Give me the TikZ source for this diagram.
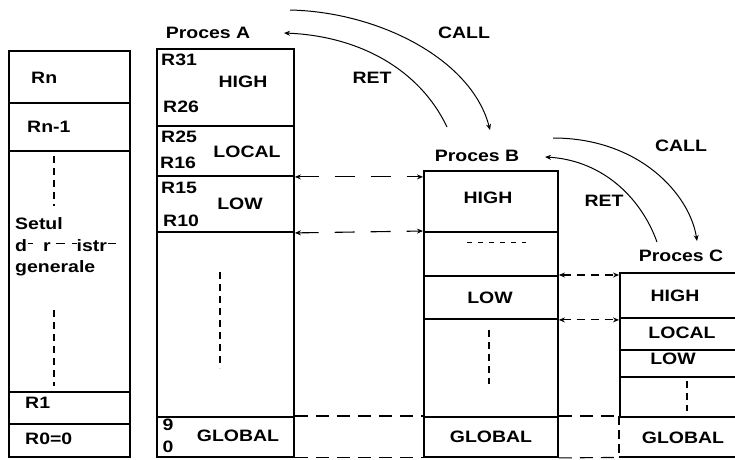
\documentclass[tikz,border=0pt]{standalone}
\usepackage{fontspec}
\setmainfont{Liberation Sans}[FakeStretch=1.18]
\usetikzlibrary{arrows.meta}
\newcommand\hdash[1][5pt]{\raisebox{0.95ex}{\rule{#1}{1pt}}}
\begin{document}
\begin{tikzpicture}[x=1pt,y=-1pt,
  txt/.style={font=\fontsize{16.5}{18}\selectfont\bfseries, inner sep=0pt},
  lt/.style={txt, anchor=west},
  cell/.style={draw, line width=1.9pt, anchor=north west, inner sep=0pt},
  curve/.style={line width=1pt, -{Stealth[length=6pt,width=5pt]}},
  link/.style={line width=1.1pt, dash pattern=on 20pt off 16pt,
    {Stealth[length=6pt,width=5pt]}-{Stealth[length=6pt,width=5pt]}},
  shortlink/.style={line width=1.1pt, dash pattern=on 8pt off 6pt,
    {Stealth[length=6pt,width=5pt]}-{Stealth[length=6pt,width=5pt]}},
  gap/.style={line width=1.1pt, dash pattern=on 13pt off 8pt},
  dots/.style={line width=1.1pt, dash pattern=on 7pt off 5pt}
]
\useasboundingbox (0,0) rectangle (735,459);
\fill[white] (0,0) rectangle (735,459);

% general register file
\node[cell, minimum width=121pt, minimum height=52pt]  (L1) at (8,50)  {};
\node[cell, minimum width=121pt, minimum height=48pt]  (L2) at (8,102) {};
\node[cell, minimum width=121pt, minimum height=241pt] (L3) at (8,150) {};
\node[cell, minimum width=121pt, minimum height=32pt]  (L4) at (8,391) {};
\node[cell, minimum width=121pt, minimum height=33pt]  (L5) at (8,423) {};
\node[lt] (Rn)  at (31,78)  {Rn};
\node[lt] (Rn1) at (27,127) {Rn-1};
\node[lt] (set1) at (15,224) {Setul};
\node[lt] (set2) at (15,246) {d\hspace{1pt}\hdash\hspace{10pt}r\hspace{5pt}\hdash[9pt]\hspace{7pt}\hdash istr\hspace{1pt}\hdash[8pt]};
\node[lt] (set3) at (15,268) {generale};
\node[lt] (R1)  at (25,403) {R1};
\node[lt] (R0)  at (25,439) {R0=0};
\draw[dots] (54,156) -- (54,206);
\draw[dots] (54,310) -- (54,386);

% process A window
\node[txt] (tA) at (208,33) {Proces A};
\node[cell, minimum width=137pt, minimum height=77pt]  (A1) at (156,48)  {};
\node[cell, minimum width=137pt, minimum height=50pt]  (A2) at (156,125) {};
\node[cell, minimum width=137pt, minimum height=56pt]  (A3) at (156,175) {};
\node[cell, minimum width=137pt, minimum height=185pt] (A4) at (156,231) {};
\node[cell, minimum width=137pt, minimum height=40pt]  (A5) at (156,416) {};
\node[lt] (r31) at (161,60)  {R31};
\node[lt] (r26) at (163,107) {R26};
\node[lt] (r25) at (161,137) {R25};
\node[lt] (r16) at (160,163) {R16};
\node[lt] (r15) at (161,188) {R15};
\node[lt] (r10) at (163,221) {R10};
\node[txt] (hA) at (243,82)  {HIGH};
\node[txt] (cA) at (247,152) {LOCAL};
\node[txt] (wA) at (240,204) {LOW};
\node[txt] (n9) at (168,425) {9};
\node[txt] (n0) at (168,447) {0};
\node[txt] (gA) at (238,436) {GLOBAL};
\draw[dots] (220,272) -- (220,368);

% process B window
\node[txt] (tB) at (477,156) {Proces B};
\node[cell, minimum width=134pt, minimum height=61pt] (B1) at (423,170) {};
\node[cell, minimum width=134pt, minimum height=44pt] (B2) at (423,231) {};
\node[cell, minimum width=134pt, minimum height=43pt] (B3) at (423,275) {};
\node[cell, minimum width=134pt, minimum height=98pt] (B4) at (423,318) {};
\node[cell, minimum width=134pt, minimum height=40pt] (B5) at (423,416) {};
\node[txt] (hB) at (488,198) {HIGH};
\node[txt] (wB) at (490,298) {LOW};
\node[txt] (gB) at (491,437) {GLOBAL};
\draw[line width=1pt, dash pattern=on 5pt off 6pt] (467,242) -- (526,242);
\draw[dots] (489,330) -- (489,384);

% process C window
\node[txt] (tC) at (681,256) {Proces C};
\node[cell, minimum width=125pt, minimum height=45pt] (C1) at (619,272) {};
\node[cell, minimum width=125pt, minimum height=32pt] (C2) at (619,317) {};
\node[cell, minimum width=125pt, minimum height=27pt] (C3) at (619,349) {};
\node[cell, minimum width=125pt, minimum height=40pt] (C4) at (619,376) {};
\node[anchor=north west, inner sep=0pt, minimum width=125pt, minimum height=41pt] (C5) at (619,416) {};
\draw[line width=1.9pt] (C5.south west) -- (C5.south east);
\draw[line width=1.9pt, dash pattern=on 9pt off 5pt] (C5.north west) -- (C5.south west);
\node[txt] (hC) at (675,296) {HIGH};
\node[txt] (cC) at (682,333) {LOCAL};
\node[txt] (wC) at (673,359) {LOW};
\node[txt] (gC) at (683,438) {GLOBAL};
\draw[dots] (687,381) -- (687,411);

% overlapping registers between neighbouring windows
\draw[link] (A2.south east) -- (A2.south east -| B1.west);
\draw[link] (A3.south east) -- (B2.north west);
\draw[shortlink] (B3.north east) -- (B3.north east -| C1.west);
\draw[shortlink] (B3.south east) -- (B3.south east -| C2.west);
\draw[gap] (A5.north east) -- (B5.north west);
\draw[gap] (A5.south east) -- (B5.south west);
\draw[gap] (B5.north east) -- (C5.north west);
\draw[gap] (B5.south east) -- (C5.south west);

% CALL / RET transitions
\coordinate (callAs) at (290,10);
\coordinate (callAe) at (490,130);
\coordinate (retAs) at (447,127);
\coordinate (retAe) at (284,33);
\draw[curve] (callAs) .. controls (380,12) and (472,60) .. (callAe);
\draw[curve] (retAs) .. controls (420,70) and (360,36) .. (retAe);
\node[txt] (callA) at (464,33) {CALL};
\node[txt] (retA)  at (372,78) {RET};

\coordinate (callBs) at (553,138);
\coordinate (callBe) at (697,241);
\coordinate (retBs) at (657,242);
\coordinate (retBe) at (545,157);
\draw[curve] (callBs) .. controls (640,138) and (690,195) .. (callBe);
\draw[curve] (retBs) .. controls (640,195) and (600,160) .. (retBe);
\node[txt] (callB) at (681,146) {CALL};
\node[txt] (retB)  at (604,201) {RET};
\end{tikzpicture}
\end{document}
